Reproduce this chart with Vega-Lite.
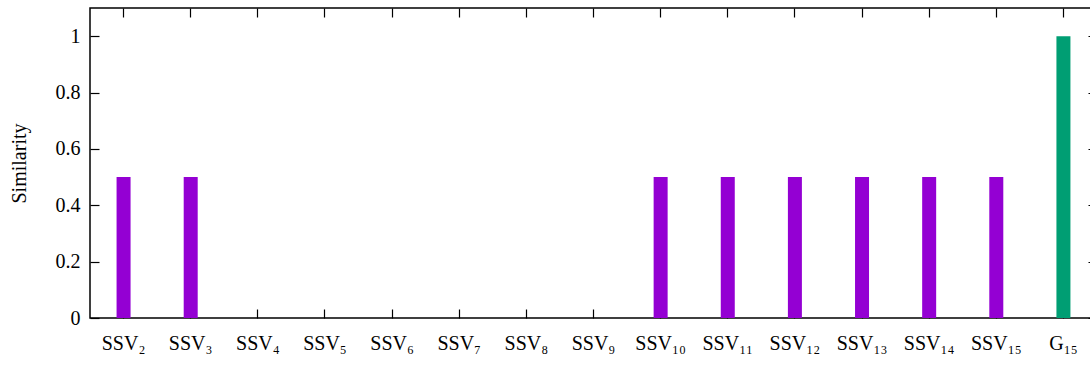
{
  "$schema": "https://vega.github.io/schema/vega-lite/v6.json",
  "autosize": "none",
  "width": 1007,
  "height": 310,
  "padding": {"left": 90, "top": 8, "right": 0, "bottom": 49},
  "background": "white",
  "config": {
    "font": "Liberation Serif",
    "view": {"stroke": "black", "strokeWidth": 1.5},
    "axis": {"labelFont": "Liberation Serif", "titleFont": "Liberation Serif", "labelColor": "black", "titleColor": "black", "tickColor": "black", "grid": false, "domain": false}
  },
  "data": {
    "values": [
      {"label": "SSV₂", "value": 0.5, "kind": "SSV"},
      {"label": "SSV₃", "value": 0.5, "kind": "SSV"},
      {"label": "SSV₄", "value": 0, "kind": "SSV"},
      {"label": "SSV₅", "value": 0, "kind": "SSV"},
      {"label": "SSV₆", "value": 0, "kind": "SSV"},
      {"label": "SSV₇", "value": 0, "kind": "SSV"},
      {"label": "SSV₈", "value": 0, "kind": "SSV"},
      {"label": "SSV₉", "value": 0, "kind": "SSV"},
      {"label": "SSV₁₀", "value": 0.5, "kind": "SSV"},
      {"label": "SSV₁₁", "value": 0.5, "kind": "SSV"},
      {"label": "SSV₁₂", "value": 0.5, "kind": "SSV"},
      {"label": "SSV₁₃", "value": 0.5, "kind": "SSV"},
      {"label": "SSV₁₄", "value": 0.5, "kind": "SSV"},
      {"label": "SSV₁₅", "value": 0.5, "kind": "SSV"},
      {"label": "G₁₅", "value": 1, "kind": "G"}
    ]
  },
  "resolve": {"axis": {"x": "independent", "y": "independent"}},
  "layer": [
    {
      "mark": {"type": "bar", "size": 14},
      "encoding": {
        "x": {"field": "label", "type": "nominal", "sort": null,
              "scale": {"paddingInner": 0, "paddingOuter": 0},
              "axis": {"title": null, "orient": "bottom", "labelAngle": 0, "labelAlign": "center", "labelBaseline": "middle", "labelFontSize": 20, "labelDx": 12, "labelPadding": 34, "tickSize": -9, "tickWidth": 1.2}},
        "y": {"field": "value", "type": "quantitative",
              "scale": {"domain": [0, 1.1], "nice": false},
              "axis": {"title": "Similarity", "orient": "left", "values": [0, 0.2, 0.4, 0.6, 0.8, 1], "format": "~g", "labelFontSize": 20, "titleFontSize": 20, "titleFontWeight": "normal", "tickSize": -9, "tickWidth": 1.2, "labelPadding": 19, "titlePadding": 26}},
        "color": {"field": "kind", "type": "nominal", "scale": {"domain": ["SSV", "G"], "range": ["#9400D3", "#009E73"]}, "legend": null}
      }
    },
    {
      "mark": {"type": "bar", "size": 14, "opacity": 0},
      "encoding": {
        "x": {"field": "label", "type": "nominal", "sort": null,
              "axis": {"title": null, "orient": "top", "labels": false, "tickSize": -9, "tickWidth": 1.2}},
        "y": {"field": "value", "type": "quantitative",
              "axis": {"title": null, "orient": "right", "labels": false, "values": [0, 0.2, 0.4, 0.6, 0.8, 1], "tickSize": -9, "tickWidth": 1.2}}
      }
    }
  ]
}
